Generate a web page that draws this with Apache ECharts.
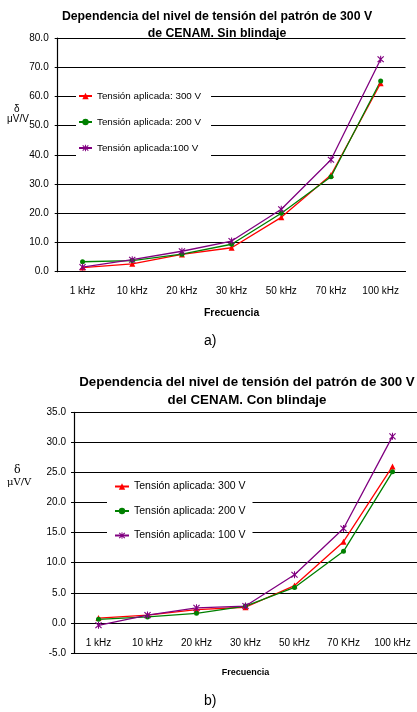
<!DOCTYPE html>
<html>
<head>
<meta charset="utf-8">
<script src="https://cdn.jsdelivr.net/npm/echarts@6/dist/echarts.min.js"></script>
<style>
  html, body { margin: 0; padding: 0; background: #fff; }
  #graficaA { position: absolute; left: 0; top: 0; width: 417px; height: 356px; }
  #graficaB { position: absolute; left: 0; top: 356px; width: 417px; height: 356px; }
</style>
</head>
<body>
<div id="graficaA"></div>
<div id="graficaB"></div>
<script>
// categorias de frecuencia
const frecuenciasA = ['1 kHz', '10 kHz', '20 kHz', '30 kHz', '50 kHz', '70 kHz', '100 kHz']
const frecuenciasB = ['1 kHz', '10 kHz', '20 kHz', '30 kHz', '50 kHz', '70 KHz', '100 kHz']

// a) sin blindaje (µV/V)
const sin300 = [1.4, 2.7, 5.9, 8.2, 18.6, 33.1, 64.5]
const sin200 = [3.4, 3.8, 6.0, 9.4, 20.0, 32.5, 65.3]
const sin100 = [1.6, 4.1, 7.0, 10.5, 21.4, 38.3, 72.7]

// b) con blindaje (µV/V)
const con300 = [0.8, 1.3, 2.2, 2.6, 6.2, 13.5, 26.0]
const con200 = [0.6, 1.0, 1.6, 2.8, 5.9, 11.9, 25.1]
const con100 = [-0.4, 1.3, 2.5, 2.8, 8.0, 15.7, 31.0]

// escalas del eje y: [min, max, paso]
const escalaA = [0, 80, 10]
const escalaB = [-5, 35, 5]

const asterisco = 'path://M4.3,0H5.7V10H4.3Z M0.3,1.4L1.4,0.3L9.7,8.6L8.6,9.7Z M8.6,0.3L9.7,1.4L1.4,9.7L0.3,8.6Z'
const fuente = 'Liberation Sans, Arial, sans-serif'

function serie(nombre, datos, color, simbolo, tam) {
  return {
    name: nombre,
    type: 'line',
    data: datos,
    color: color,
    symbol: simbolo,
    symbolSize: tam,
    lineStyle: { width: 1.3, color: color },
    itemStyle: { color: color },
    emphasis: { disabled: true },
    animation: false
  }
}

function opciones(cfg) {
  return {
    animation: false,
    textStyle: { fontFamily: fuente },
    title: {
      text: cfg.titulo,
      left: cfg.tituloX,
      top: cfg.tituloY,
      textAlign: 'center',
      textStyle: { fontSize: cfg.tituloTam, fontWeight: 'bold', color: '#000', lineHeight: cfg.tituloLinea, fontFamily: fuente }
    },
    legend: {
      orient: 'vertical',
      left: cfg.leyenda.left,
      top: cfg.leyenda.top,
      width: cfg.leyenda.width,
      backgroundColor: '#fff',
      padding: cfg.leyenda.padding,
      itemWidth: cfg.leyenda.icono,
      itemHeight: 8,
      itemGap: cfg.leyenda.gap,
      selectedMode: false,
      textStyle: { fontSize: cfg.leyenda.tam, color: '#000', fontFamily: fuente, padding: cfg.leyenda.textPad },
      data: cfg.nombres
    },
    grid: cfg.grid,
    xAxis: {
      type: 'category',
      data: cfg.categorias,
      boundaryGap: true,
      name: 'Frecuencia',
      nameLocation: 'middle',
      nameGap: cfg.nombreGap,
      nameTextStyle: { fontSize: cfg.nombreTam, fontWeight: 'bold', color: '#000' },
      axisLine: { lineStyle: { color: '#000', width: 1.2 } },
      axisTick: { length: 4, lineStyle: { color: '#000' } },
      axisLabel: { fontSize: 10, color: '#000', margin: cfg.etiquetaMargen, interval: 0 },
      splitLine: { show: false }
    },
    yAxis: {
      type: 'value',
      min: cfg.escala[0],
      max: cfg.escala[1],
      interval: cfg.escala[2],
      axisLine: { show: true, lineStyle: { color: '#000', width: 1.2 } },
      axisTick: { show: true, length: 3, lineStyle: { color: '#000' } },
      axisLabel: { fontSize: 10, color: '#000', margin: cfg.margenY, formatter: v => v.toFixed(1) },
      splitLine: { lineStyle: { color: '#000', width: 1.2 } }
    },
    graphic: cfg.graficos,
    series: [
      serie(cfg.nombres[0], cfg.datos[0], '#ff0000', 'triangle', 6),
      serie(cfg.nombres[1], cfg.datos[1], '#008000', 'circle', 5),
      serie(cfg.nombres[2], cfg.datos[2], '#800080', asterisco, 7)
    ]
  }
}

const chartA = echarts.init(document.getElementById('graficaA'), null, { renderer: 'canvas' })
chartA.setOption(opciones({
  titulo: 'Dependencia del nivel de tensión del patrón de 300 V\nde CENAM. Sin blindaje',
  tituloX: 212, tituloY: 2.5, tituloTam: 12.3, tituloLinea: 17.5,
  leyenda: { left: 76, top: 84, width: 135, padding: [7, 10, 7, 2], gap: 16, tam: 9.8, textPad: 0, icono: 13 },
  nombres: ['Tensión aplicada: 300 V', 'Tensión aplicada: 200 V', 'Tensión aplicada:100 V'],
  grid: { left: 57.7, right: 11.5, top: 38, bottom: 84.3 },
  categorias: frecuenciasA,
  nombreGap: 36, nombreTam: 10.5, etiquetaMargen: 15, margenY: 9,
  escala: escalaA,
  datos: [sin300, sin200, sin100],
  graficos: [
    { type: 'text', left: 14, top: 104, style: { text: 'δ', fill: '#000', font: '10px ' + fuente } },
    { type: 'text', left: 7, top: 114, style: { text: 'μV/V', fill: '#000', font: '10px ' + fuente } },
    { type: 'text', left: 204, top: 334, style: { text: 'a)', fill: '#000', font: '14px ' + fuente } }
  ]
}))

const chartB = echarts.init(document.getElementById('graficaB'), null, { renderer: 'canvas' })
chartB.setOption(opciones({
  titulo: 'Dependencia del nivel de tensión del patrón de 300 V\ndel CENAM. Con blindaje',
  tituloX: 242, tituloY: 12.5, tituloTam: 13.3, tituloLinea: 18,
  leyenda: { left: 107, top: 121, width: 136, padding: [4, 7, 8, 7], gap: 13.5, tam: 10.5, textPad: [9, 0, 0, 0], icono: 14 },
  nombres: ['Tensión aplicada: 300 V', 'Tensión aplicada: 200 V', 'Tensión aplicada: 100 V'],
  grid: { left: 74, right: 0, top: 56.3, bottom: 59 },
  categorias: frecuenciasB,
  nombreGap: 15, nombreTam: 9, etiquetaMargen: -15, margenY: 8,
  escala: escalaB,
  datos: [con300, con200, con100],
  graficos: [
    { type: 'text', left: 14, top: 109, style: { text: 'δ', fill: '#000', font: '11px DejaVu Serif, serif' } },
    { type: 'text', left: 7, top: 121, style: { text: 'μV/V', fill: '#000', font: '10px DejaVu Serif, serif' } },
    { type: 'text', left: 204, top: 338, style: { text: 'b)', fill: '#000', font: '14px ' + fuente } }
  ]
}))
</script>
</body>
</html>
